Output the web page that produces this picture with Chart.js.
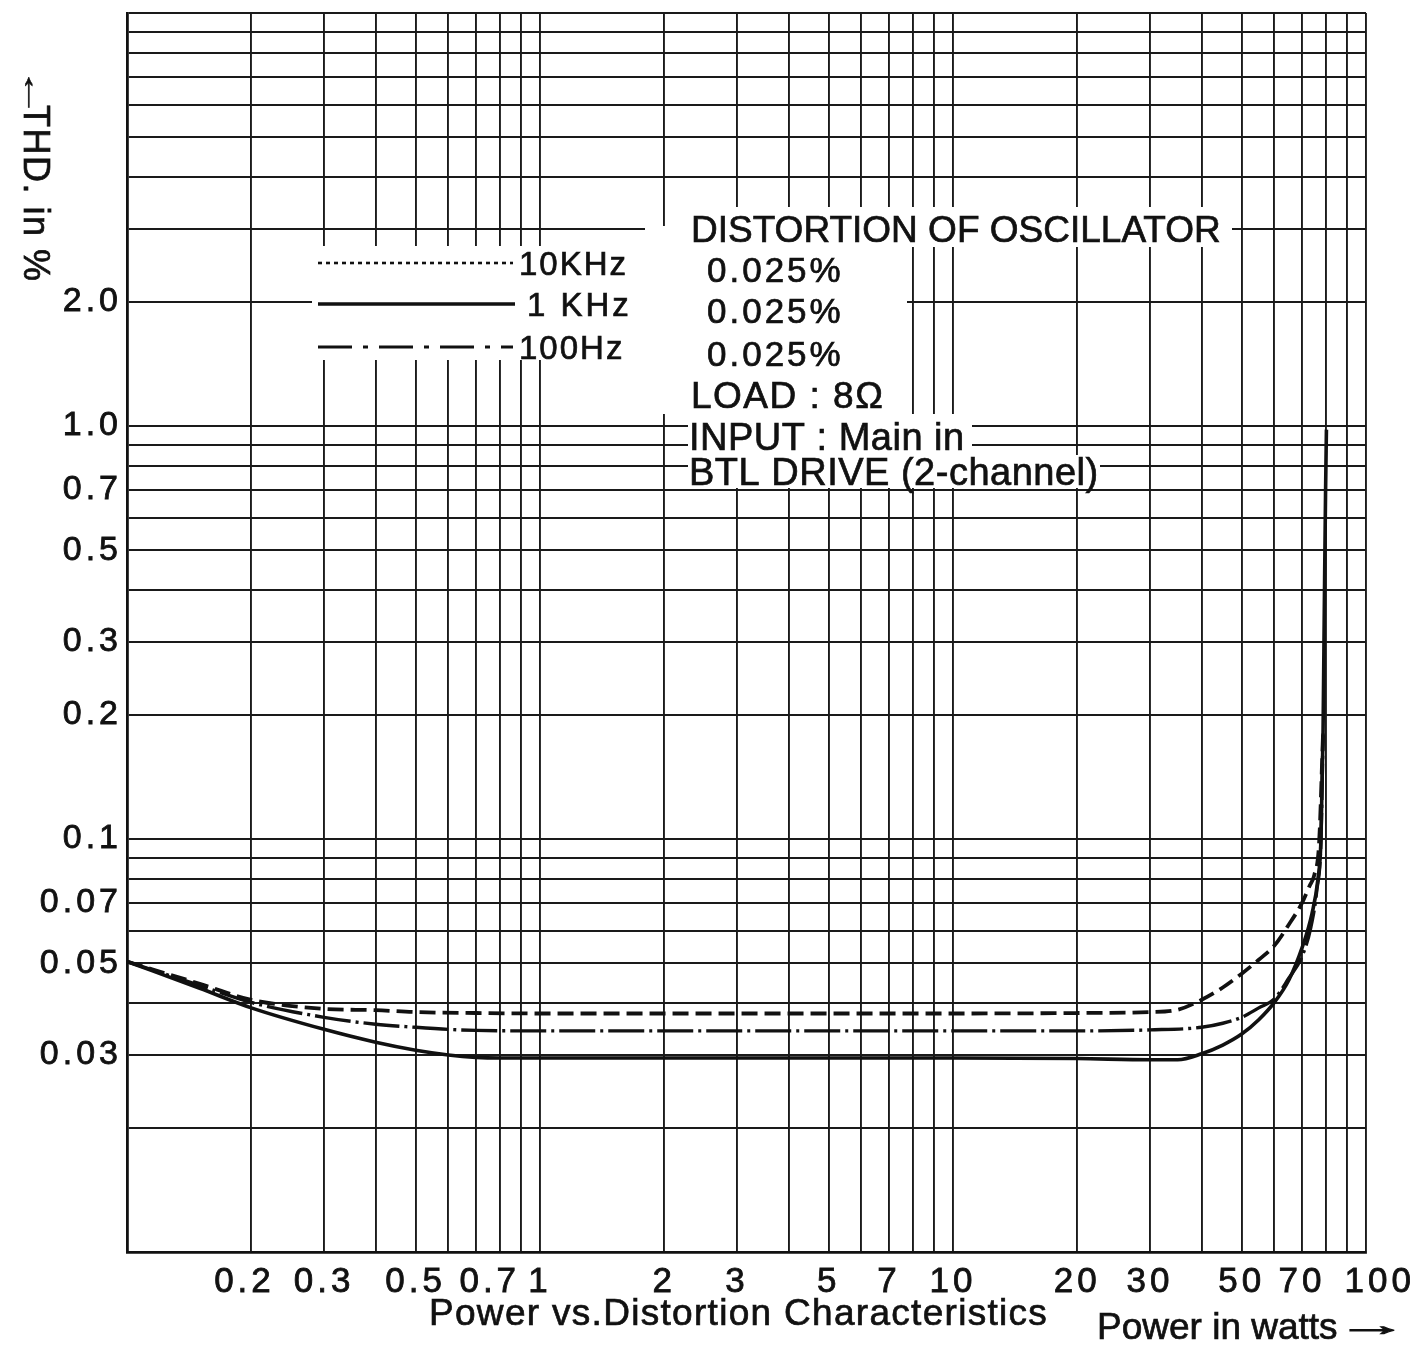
<!DOCTYPE html>
<html><head><meta charset="utf-8">
<script src="https://cdn.jsdelivr.net/npm/chart.js@4.4.1/dist/chart.umd.min.js"></script>
<style>html,body{margin:0;padding:0;background:#fff;}canvas{display:block;}</style>
</head><body>
<canvas id="c" width="1416" height="1352"></canvas>
<script>
// ---- data (power in watts, THD in %) ----
const power10k = [0.1, 0.15, 0.2, 0.3, 0.4, 0.5, 0.7, 1, 2, 5, 10, 20, 30, 35, 40, 45, 50, 55, 60, 65, 70, 73, 75, 77, 78.7];
const thd10k   = [0.0505, 0.0446, 0.0408, 0.0388, 0.0385, 0.0381, 0.0379, 0.0378, 0.0378, 0.0378, 0.0378, 0.0379, 0.0381, 0.0386, 0.0408, 0.0437, 0.0472, 0.051, 0.0552, 0.062, 0.07, 0.077, 0.082, 0.098, 0.18];
const power1k  = [0.1, 0.15, 0.2, 0.3, 0.4, 0.5, 0.6, 0.7, 0.8, 1, 2, 5, 10, 20, 30, 35, 40, 45, 50, 55, 60, 65, 70, 74, 76.5, 77.8, 78.7, 79.3, 79.8, 80.2];
const thd1k    = [0.0505, 0.0435, 0.039, 0.0346, 0.0322, 0.0308, 0.03, 0.0296, 0.0295, 0.0295, 0.0295, 0.0295, 0.0295, 0.0294, 0.0292, 0.0292, 0.0302, 0.0317, 0.0337, 0.0365, 0.0402, 0.0455, 0.0545, 0.066, 0.08, 0.1, 0.18, 0.38, 0.68, 0.98];
const power100 = [0.1, 0.15, 0.2, 0.3, 0.4, 0.5, 0.6, 0.7, 1, 2, 5, 10, 20, 30, 40, 45, 50, 55, 60, 65, 70, 73.5, 76, 77.8, 78.7];
const thd100   = [0.0505, 0.0442, 0.0402, 0.037, 0.0356, 0.035, 0.0346, 0.0344, 0.0343, 0.0343, 0.0343, 0.0343, 0.0343, 0.0345, 0.035, 0.0358, 0.037, 0.039, 0.041, 0.046, 0.052, 0.061, 0.075, 0.1, 0.18];

const seriesNames = ['10KHz', '1 KHz', '100Hz'];
const oscillatorTHD = ['0.025%', '0.025%', '0.025%'];
const noteLines = ['DISTORTION OF OSCILLATOR', 'LOAD : 8\u03A9', 'INPUT : Main in', 'BTL DRIVE (2-channel)'];

const xRange = [0.1, 100];
const yRange = [0.01, 10];
const xTickValues = [0.2, 0.3, 0.5, 0.7, 1, 2, 3, 5, 7, 10, 20, 30, 50, 70, 100];
const xTickLabels = ['0.2 ', '0.3', '0.5', '  0.7', '1', '2', '3', '5', '7', '10', '20', '30', '50', '70', '  100'];
const yTickValues = [2, 1, 0.7, 0.5, 0.3, 0.2, 0.1, 0.07, 0.05, 0.03];
const yTickLabels = ['2.0', '1.0', '0.7', '0.5', '0.3', '0.2', '0.1', '0.07', '0.05', '0.03'];
const xTitle = 'Power vs.Distortion Characteristics';
const xUnitTitle = 'Power in watts';
const yTitle = 'THD. in %';
const arrowRight = '\u2192';
const arrowLeft = '\u2190';

// ---- helpers ----
function logGrid(min, max) {
  const out = [];
  for (let e = Math.floor(Math.log10(min) + 1e-9); e < Math.round(Math.log10(max)); e++) {
    for (let m = 1; m <= 9; m++) out.push(+(m * Math.pow(10, e)).toPrecision(6));
  }
  out.push(max);
  return out;
}
function lookup(values, labels, v) {
  for (let i = 0; i < values.length; i++) if (Math.abs(values[i] - v) / values[i] < 1e-6) return labels[i];
  return '';
}
const pts = (xs, ys) => xs.map((x, i) => ({x, y: ys[i]}));

const FONT = 'Liberation Sans';
const INK = '#111';

function txt(ctx, s, x, y, size, spacing, sx, stroke) {
  ctx.save();
  ctx.translate(x, y);
  if (sx) ctx.scale(sx, 1);
  ctx.font = size + 'px "' + FONT + '"';
  ctx.letterSpacing = spacing + 'px';
  ctx.fillStyle = INK;
  ctx.strokeStyle = INK;
  ctx.lineWidth = stroke === undefined ? 0.7 : stroke;
  ctx.textAlign = 'left';
  ctx.textBaseline = 'alphabetic';
  ctx.fillText(s, 0, 0);
  if (ctx.lineWidth > 0) ctx.strokeText(s, 0, 0);
  ctx.restore();
}
function seg(ctx, x1, y1, x2, y2, w, dash) {
  ctx.save();
  ctx.strokeStyle = INK; ctx.lineWidth = w; ctx.setLineDash(dash || []);
  ctx.beginPath(); ctx.moveTo(x1, y1); ctx.lineTo(x2, y2); ctx.stroke();
  ctx.restore();
}

const paperPlugin = {
  id: 'paper',
  beforeDraw(chart) {
    chart.ctx.letterSpacing = '4px';
  },
  beforeDatasetsDraw(chart) {
    const ctx = chart.ctx;
    ctx.save();
    ctx.fillStyle = '#fff';
    // white areas behind the legend and the note block
    [[312, 246, 333, 114], [645, 226, 262, 188], [700, 207, 205, 281], [686, 207, 546, 40],
     [688, 414, 284, 42], [688, 455, 412, 33]].forEach(r => ctx.fillRect(r[0], r[1], r[2], r[3]));
    ctx.restore();
  },
  afterDatasetsDraw(chart) {
    const ctx = chart.ctx;
    // legend samples
    seg(ctx, 318, 263, 513, 263, 2.6, [4, 4]);
    seg(ctx, 318, 304, 515, 304, 3.4, []);
    seg(ctx, 318, 347, 513, 347, 2.8, [34, 11, 5, 11]);
    txt(ctx, seriesNames[0], 519, 275, 33, 2);
    txt(ctx, seriesNames[1], 527, 316, 33, 3);
    txt(ctx, seriesNames[2], 519, 359, 33, 2);
    // oscillator notes
    txt(ctx, noteLines[0], 691, 242, 37, 0);
    txt(ctx, oscillatorTHD[0], 707, 282, 35, 3);
    txt(ctx, oscillatorTHD[1], 707, 323, 35, 3);
    txt(ctx, oscillatorTHD[2], 707, 366, 35, 3);
    txt(ctx, noteLines[1], 691, 408, 37, 1.5);
    txt(ctx, noteLines[2], 689, 450, 38, 0.5);
    txt(ctx, noteLines[3], 689, 485, 38, 0.5);
    // axis titles
    txt(ctx, xTitle, 429, 1325, 37, 1.3);
    txt(ctx, xUnitTitle, 1097, 1339, 37, 0);
    txt(ctx, arrowRight, 1336, 1335, 30, 0, 2.4, 0);
    ctx.save();
    ctx.translate(24, 67);
    ctx.rotate(Math.PI / 2);
    txt(ctx, arrowLeft, 0, 0, 30, 0, 1.7, 0.4);
    txt(ctx, yTitle, 38, 0, 36, 1.5);
    ctx.restore();
  }
};

const gridOpts = {color: '#1a1a1a', lineWidth: 1.9, drawTicks: false};

new Chart(document.getElementById('c'), {
  type: 'line',
  data: {
    datasets: [
      {label: seriesNames[0], data: pts(power10k, thd10k), borderDash: [16, 7], borderWidth: 3.8},
      {label: seriesNames[2], data: pts(power100, thd100), borderDash: [36, 5, 3, 5], borderWidth: 3.4},
      {label: seriesNames[1], data: pts(power1k, thd1k), borderWidth: 3.6}
    ].map(d => Object.assign({borderColor: INK, pointRadius: 0, fill: false, cubicInterpolationMode: 'monotone'}, d))
  },
  options: {
    responsive: false,
    animation: false,
    devicePixelRatio: 1,
    events: [],
    layout: {padding: {top: 13, right: 50, left: 0, bottom: 0}},
    plugins: {legend: {display: false}, tooltip: {enabled: false}},
    scales: {
      x: {
        type: 'logarithmic', min: xRange[0], max: xRange[1],
        grid: gridOpts,
        border: {color: INK, width: 2.8},
        ticks: {
          autoSkip: false, maxRotation: 0, minRotation: 0, padding: 9, color: INK,
          textStrokeColor: INK, textStrokeWidth: 0.8,
          font: {family: FONT, size: 35},
          callback: v => lookup(xTickValues, xTickLabels, v)
        },
        afterBuildTicks: s => { s.ticks = logGrid(xRange[0], xRange[1]).map(v => ({value: v})); },
        afterFit: s => { s.height = 100; s.paddingLeft = 0; s.paddingRight = 0; }
      },
      y: {
        type: 'logarithmic', min: yRange[0], max: yRange[1],
        grid: gridOpts,
        border: {color: INK, width: 2.8},
        ticks: {
          autoSkip: false, padding: 5, color: INK,
          textStrokeColor: INK, textStrokeWidth: 0.8,
          font: {family: FONT, size: 34},
          callback: v => lookup(yTickValues, yTickLabels, v)
        },
        afterBuildTicks: s => { s.ticks = logGrid(yRange[0], yRange[1]).map(v => ({value: v})); },
        afterFit: s => { s.width = 127; s.paddingTop = 0; s.paddingBottom = 0; }
      }
    }
  },
  plugins: [paperPlugin]
});
</script>
</body></html>
